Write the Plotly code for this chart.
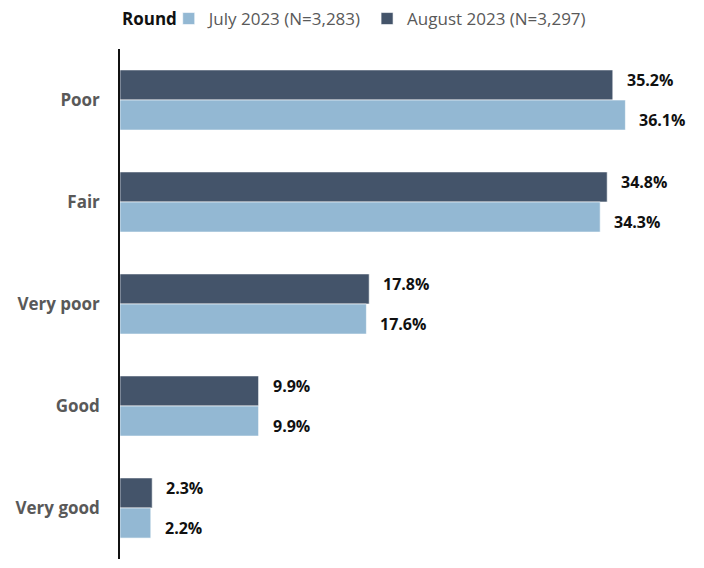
import plotly.graph_objects as go

categories = ["Poor", "Fair", "Very poor", "Good", "Very good"]
july = [36.1, 34.3, 17.6, 9.9, 2.2]
august = [35.2, 34.8, 17.8, 9.9, 2.3]
series_names = ["July 2023 (N=3,283)", "August 2023 (N=3,297)"]

LIGHT = "#93b8d3"
DARK = "#44546a"
FONT = "Open Sans"

fig = go.Figure()
# reversed category axis puts the first trace on top, so August goes first
for name, vals, color in [(series_names[1], august, DARK), (series_names[0], july, LIGHT)]:
    fig.add_trace(go.Bar(
        y=categories, x=vals, orientation="h", name=name,
        marker=dict(color=color, line=dict(color="rgba(255,255,255,0.6)", width=1)),
        hoverinfo="skip",
    ))

# value labels to the right of each bar
for vals, offset in [(august, -0.2), (july, 0.2)]:
    for i, v in enumerate(vals):
        fig.add_annotation(
            x=v, y=i + offset, xref="x", yref="y",
            text=f"<b>{v:.1f}%</b>", showarrow=False,
            xanchor="left", xshift=12,
            font=dict(family=FONT, size=16, color="#111111"),
        )

# legend title drawn separately so it sits tight against the swatches
fig.add_annotation(
    x=0, xref="paper", xanchor="left",
    y=540 / 510, yref="paper", yanchor="middle",
    text="<b>Round</b>", showarrow=False,
    font=dict(family=FONT, size=17, color="#111111"),
)

fig.update_yaxes(
    categoryorder="array", categoryarray=categories, autorange="reversed",
    showline=True, linecolor="#111111", linewidth=1.5,
    showgrid=False, ticks="", ticklabelstandoff=15, automargin=False,
    tickfont=dict(family=FONT, size=17, color="#595959", weight="bold"),
)
fig.update_xaxes(range=[0, 40], visible=False, showgrid=False, automargin=False)

fig.update_layout(
    width=696, height=560,
    barmode="group", bargap=0.41, bargroupgap=0,
    plot_bgcolor="white", paper_bgcolor="white",
    margin=dict(l=112, r=24, t=41, b=9, autoexpand=False),
    font=dict(family=FONT, color="#111111"),
    legend=dict(
        orientation="h", x=0.087, xanchor="left",
        yref="container", y=1 - 11 / 560, yanchor="middle",
        font=dict(family=FONT, size=17, color="#595959"),
        traceorder="reversed", itemwidth=30,
    ),
    showlegend=True,
)

fig.write_html("out.html")
